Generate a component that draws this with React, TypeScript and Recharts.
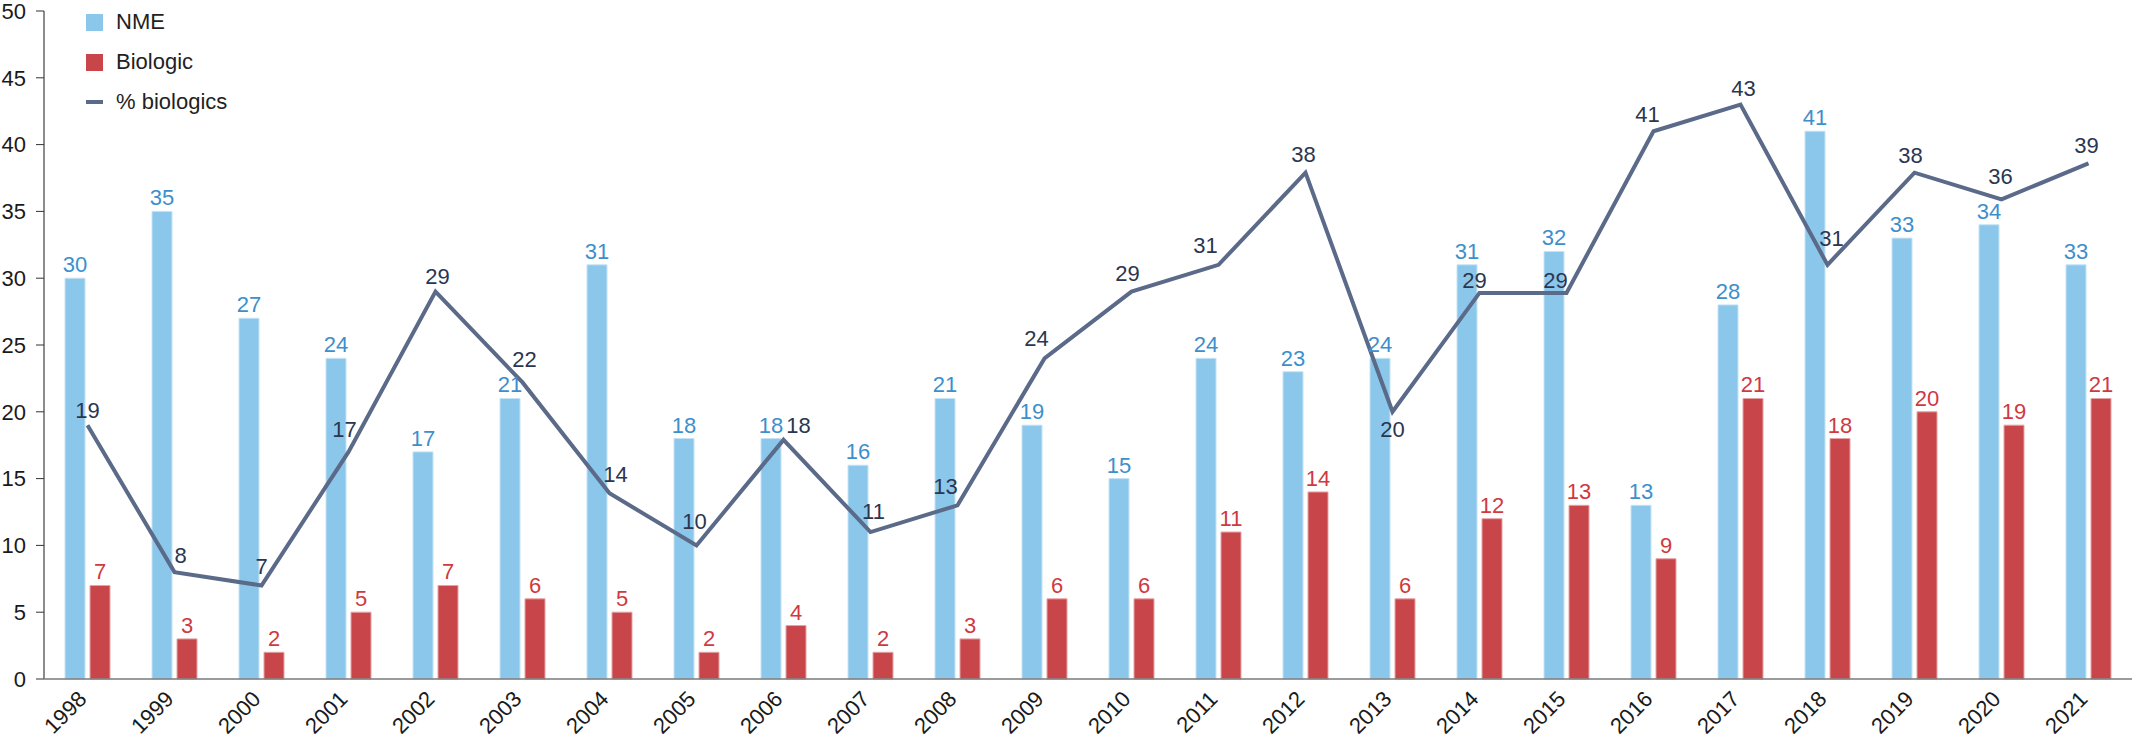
import React from "react";
import {
  ComposedChart,
  Bar,
  Line,
  XAxis,
  YAxis,
  Legend,
  LabelList,
} from "recharts";

const years = [
  "1998", "1999", "2000", "2001", "2002", "2003", "2004", "2005",
  "2006", "2007", "2008", "2009", "2010", "2011", "2012", "2013",
  "2014", "2015", "2016", "2017", "2018", "2019", "2020", "2021",
];

// bar heights as drawn
const nme = [30, 35, 27, 24, 17, 21, 31, 18, 18, 16, 21, 19, 15, 24, 23, 24, 31, 32, 13, 28, 41, 33, 34, 31];
// numbers printed above the NME bars (2021 reads 33 although the bar stops at 31)
const nmeLabels = [30, 35, 27, 24, 17, 21, 31, 18, 18, 16, 21, 19, 15, 24, 23, 24, 31, 32, 13, 28, 41, 33, 34, 33];
const biologic = [7, 3, 2, 5, 7, 6, 5, 2, 4, 2, 3, 6, 6, 11, 14, 6, 12, 13, 9, 21, 18, 20, 19, 21];
const pctBiologics = [19, 8, 7, 17, 29, 22.2, 13.9, 10, 17.9, 11, 13, 24, 29, 31, 37.9, 20, 28.9, 28.9, 41, 43, 31, 37.9, 35.9, 38.6];
const pctLabels = [19, 8, 7, 17, 29, 22, 14, 10, 18, 11, 13, 24, 29, 31, 38, 20, 29, 29, 41, 43, 31, 38, 36, 39];
const yTicks = [0, 5, 10, 15, 20, 25, 30, 35, 40, 45, 50];

// where each % label sits relative to its point
const pctLabelNudge: [number, number][] = [
  [0, -15], [6, -17], [0, -19], [-4, -23], [2, -15], [2, -23], [6, -19], [-2, -24],
  [15, -15], [3, -21], [-12, -19], [-8, -20], [-4, -18], [-13, -20], [-2, -18], [0, 17],
  [-5, -13], [-11, -13], [-6, -17], [3, -16], [4, -27], [-4, -17], [-1, -23], [-2, -18],
];

const FONT = "'Liberation Sans', Arial, Helvetica, sans-serif";
const FS = 22;
const NME_COLOR = "#8BC7EA";
const BIO_COLOR = "#C8464A";
const LINE_COLOR = "#5A6A88";

const data = years.map((year, i) => ({
  year,
  nme: nme[i],
  biologic: biologic[i],
  pct: pctBiologics[i],
}));

function NmeLabel(props: any) {
  const { x, y, width, index } = props;
  return (
    <text x={x + width / 2} y={y - 6} textAnchor="middle" fontSize={FS} fill="#3D8FCC" fontFamily={FONT}>
      {nmeLabels[index]}
    </text>
  );
}

function BioLabel(props: any) {
  const { x, y, width, value } = props;
  return (
    <text x={x + width / 2} y={y - 6} textAnchor="middle" fontSize={FS} fill="#D0393F" fontFamily={FONT}>
      {value}
    </text>
  );
}

function PctLabel(props: any) {
  const { x, y, index } = props;
  const [dx, dy] = pctLabelNudge[index];
  return (
    <text x={x + dx} y={y + dy} dy="0.35em" textAnchor="middle" fontSize={FS} fill="#2B3650" fontFamily={FONT}>
      {pctLabels[index]}
    </text>
  );
}

function YearTick(props: any) {
  const { x, y, payload } = props;
  return (
    <g transform={`translate(${x - 5},${y + 16})`}>
      <text x={0} y={0} dy="0.35em" textAnchor="end" transform="rotate(-45)" fontSize={FS} fill="#1a1a1a" fontFamily={FONT}>
        {payload.value}
      </text>
    </g>
  );
}

function LegendBox() {
  const rows = [
    { name: "NME", kind: "box", color: NME_COLOR },
    { name: "Biologic", kind: "box", color: BIO_COLOR },
    { name: "% biologics", kind: "line", color: LINE_COLOR },
  ];
  return (
    <div style={{ fontFamily: FONT, fontSize: FS, color: "#231f20" }}>
      {rows.map((r) => (
        <div key={r.name} style={{ display: "flex", alignItems: "center", height: 40 }}>
          <div style={{ width: 17, height: 17, marginRight: 13, display: "flex", alignItems: "center" }}>
            <div style={{ width: 17, height: r.kind === "box" ? 17 : 4, background: r.color }} />
          </div>
          <span>{r.name}</span>
        </div>
      ))}
    </div>
  );
}

export default function App() {
  return (
    <div>
      <style>{"body{margin:0;}"}</style>
      <ComposedChart
        width={2132}
        height={742}
        data={data}
        margin={{ top: 11, right: 0, bottom: 0, left: 0 }}
        barCategoryGap={21}
        barGap={5}
      >
        <XAxis
          dataKey="year"
          height={63}
          tickSize={0}
          tickMargin={0}
          interval={0}
          tick={<YearTick />}
          axisLine={{ stroke: "#7a7a7a", strokeWidth: 1.5 }}
          tickLine={false}
        />
        <YAxis
          domain={[0, 50]}
          ticks={yTicks}
          width={44}
          tickSize={8}
          tickMargin={10}
          interval={0}
          axisLine={{ stroke: "#8c8c8c", strokeWidth: 2 }}
          tickLine={{ stroke: "#333" }}
          tick={{ fontSize: FS, fill: "#1a1a1a", fontFamily: FONT }}
        />
        <Legend
          layout="vertical"
          align="center"
          verticalAlign="middle"
          wrapperStyle={{ left: 86, top: 2, width: "auto" }}
          content={<LegendBox />}
        />
        <Bar dataKey="nme" name="NME" fill={NME_COLOR} stroke="#c4e3f5" strokeWidth={1} barSize={20} isAnimationActive={false}>
          <LabelList dataKey="nme" content={<NmeLabel />} />
        </Bar>
        <Bar dataKey="biologic" name="Biologic" fill={BIO_COLOR} stroke="#e6a3a5" strokeWidth={1} barSize={20} isAnimationActive={false}>
          <LabelList dataKey="biologic" content={<BioLabel />} />
        </Bar>
        <Line
          dataKey="pct"
          name="% biologics"
          type="linear"
          stroke={LINE_COLOR}
          strokeWidth={4}
          dot={false}
          activeDot={false}
          isAnimationActive={false}
        >
          <LabelList dataKey="pct" content={<PctLabel />} />
        </Line>
      </ComposedChart>
    </div>
  );
}
